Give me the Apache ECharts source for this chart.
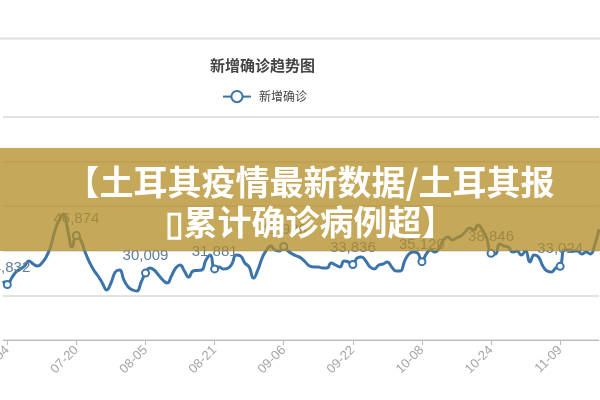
<!DOCTYPE html>
<html><head><meta charset="utf-8">
<script src="https://cdn.jsdelivr.net/npm/echarts@6/dist/echarts.min.js"></script>
<style>html,body{margin:0;padding:0;background:#fff}#c{width:600px;height:400px}</style>
</head><body><div id="c"></div>
<script>
// ---- data ----
const startDate = '2020-07-03';
const endDate = '2020-11-18';
const tickLabels = ['07-04','07-20','08-05','08-21','09-06','09-22','10-08','10-24','11-09'];
const newConfirmed = [
26456, 24832, 27801, 30491, 31836, 33182, 35424, 34078, 33182, 34527,
37217, 41701, 48876, 53808, 56498, 49324, 41701, 46874, 44840, 39459,
34975, 31388, 28698, 25559, 22420, 25559, 30491, 31388, 26904, 23765,
22420, 21972, 26007, 30009, 32285, 31388, 29146, 26904, 25559, 28698,
32285, 33630, 30940, 28249, 30940, 31200, 31388, 35872, 38114, 31881,
32733, 31836, 32100, 34078, 38114, 37666, 34527, 32733, 27801, 31388,
36769, 40356, 42150, 40356, 39908, 41926, 39908, 38562, 37666, 36769,
34975, 33182, 32733, 32733, 32285, 32285, 34527, 33630, 32733, 35424,
34975, 33836, 36769, 37217, 35424, 32733, 31836, 33630, 34078, 34975,
32733, 30940, 30940, 35424, 38562, 39459, 39011, 35120, 38562, 40356,
39459, 41253, 44840, 46185, 44840, 45737, 46634, 48427, 50221, 49324,
51566, 49324, 45737, 38846, 38562, 43046, 42150, 41701, 39459, 39908,
38114, 39908, 34975, 38114, 37217, 33182, 30940, 30491, 32285, 33024,
40356, 40356, 39908, 39908, 38562, 39459, 38562, 42598, 49772
];
const titleText = '新增确诊趋势图';
const seriesName = '新增确诊';
const bannerLine1 = '【土耳其疫情最新数据/土耳其报';
const bannerLine2 = '▯累计确诊病例超】';

// ---- categories (MM-DD) ----
const categories = [];
{
  let d = new Date(startDate + 'T00:00:00Z');
  const e = new Date(endDate + 'T00:00:00Z');
  while (d <= e) {
    const mm = String(d.getUTCMonth() + 1).padStart(2, '0');
    const dd = String(d.getUTCDate()).padStart(2, '0');
    categories.push(mm + '-' + dd);
    d = new Date(d.getTime() + 86400000);
  }
}
const labelIdx = new Set(tickLabels.map(t => categories.indexOf(t)));
const showTick = (i, v) => tickLabels.indexOf(v) >= 0;
const fmt = n => String(n).replace(/\B(?=(\d{3})+(?!\d))/g, ',');

const lineColor = '#3a74aa';
const chart = echarts.init(document.getElementById('c'), null, {renderer: 'canvas'});
chart.setOption({
  animation: false,
  backgroundColor: '#fff',
  title: {
    text: titleText, left: 210, top: 58, padding: 0,
    textStyle: {fontSize: 15, fontWeight: 'bold', color: '#444', fontFamily: '"Noto Sans CJK SC"'}
  },
  legend: {
    left: 222, top: 90, padding: 0, itemWidth: 28, itemHeight: 14, itemGap: 10,
    data: [seriesName],
    textStyle: {fontSize: 12, color: '#444', fontFamily: '"Noto Sans CJK SC"', padding: [0, 0, 0, 3]}
  },
  grid: {left: 3, right: 1, top: 117, bottom: 60, containLabel: false, outerBoundsMode: 'none'},
  xAxis: {
    type: 'category', data: categories, boundaryGap: false,
    axisLine: {lineStyle: {color: '#bbb', width: 1}},
    axisTick: {show: true, interval: showTick, length: 5, lineStyle: {color: '#bbb'}},
    axisLabel: {interval: showTick, rotate: 45, margin: 8, color: '#a6a6a6', fontSize: 13, fontFamily: '"Liberation Sans", Arial, sans-serif'},
    splitLine: {show: false}
  },
  yAxis: {
    type: 'value', min: 0, max: 100000, interval: 20000,
    axisLabel: {show: false}, axisLine: {show: false}, axisTick: {show: false},
    splitLine: {lineStyle: {color: '#e2e2e2', width: 2}}
  },
  series: [{
    type: 'line', name: seriesName, data: newConfirmed, smooth: true,
    showSymbol: true, showAllSymbol: true,
    symbol: 'emptyCircle',
    symbolSize: (v, p) => (p && labelIdx.has(p.dataIndex)) ? 7 : 0,
    lineStyle: {width: 3, color: lineColor},
    itemStyle: {color: lineColor, borderColor: lineColor, borderWidth: 1.5},
    label: {
      show: true, position: 'top', distance: 5, color: '#5f7d99', fontSize: 15,
      fontFamily: '"Liberation Sans", Arial, sans-serif', textBorderWidth: 0,
      formatter: p => labelIdx.has(p.dataIndex) ? fmt(p.value) : ''
    },
    emphasis: {disabled: true}
  }],
  graphic: [
    {type: 'line', z: 100, shape: {x1: 0, y1: 38.5, x2: 600, y2: 38.5}, style: {stroke: '#e0e0e0', lineWidth: 2}},
    {type: 'rect', z: 100, shape: {x: 0, y: 148, width: 600, height: 103}, style: {fill: 'rgba(180,140,38,0.76)'}},
    {type: 'text', z: 101, style: {text: bannerLine1, x: 310, y: 182, textAlign: 'center', textVerticalAlign: 'middle',
      font: 'bold 34px "Noto Sans CJK SC"', fill: '#fff', shadowColor: 'rgba(0,0,0,0.3)', shadowBlur: 3}},
    {type: 'text', z: 101, style: {text: bannerLine2, x: 310, y: 222, textAlign: 'center', textVerticalAlign: 'middle',
      font: 'bold 34px "Noto Sans CJK SC"', fill: '#fff', shadowColor: 'rgba(0,0,0,0.3)', shadowBlur: 3}}
  ]
});
</script></body></html>
